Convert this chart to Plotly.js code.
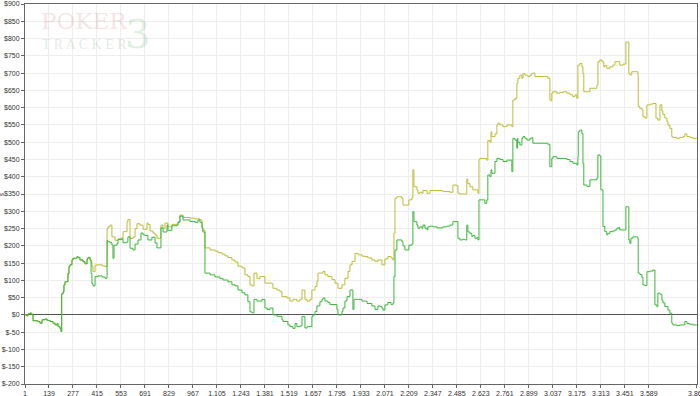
<!DOCTYPE html>
<html>
<head>
<meta charset="utf-8">
<script src="https://cdn.plot.ly/plotly-3.0.1.min.js"></script>
<style>html,body{margin:0;padding:0;background:#fff;overflow:hidden;}#chart{width:700px;height:396px;}</style>
</head>
<body>
<div id="chart"></div>
<script>
// Hands (x) and cumulative winnings ($)
const greenHands = [1,12,18,30,41,47,76,87,99,116,128,145,162,174,185,191,202,208,212,220,225,231,243,248,254,260,271,277,300,306,317,335,346,358,363,375,381,386,392,404,421,444,461,473,478,490,501,507,513,530,536,559,565,588,593,605,622,634,651,668,680,691,708,731,749,760,777,783,795,818,823,846,875,881,892,910,938,950,979,996,1007,1019,1024,1036,1065,1093,1122,1140,1168,1191,1209,1226,1249,1266,1283,1295,1306,1318,1335,1364,1381,1393,1410,1427,1450,1479,1485,1513,1525,1542,1554,1565,1582,1594,1611,1623,1651,1657,1669,1680,1697,1709,1715,1726,1743,1755,1795,1801,1824,1830,1841,1853,1870,1887,1893,1910,1939,1968,1996,2014,2031,2042,2054,2060,2071,2088,2106,2117,2123,2129,2140,2169,2175,2186,2209,2226,2232,2238,2255,2261,2272,2284,2290,2301,2313,2318,2330,2347,2370,2405,2427,2445,2462,2485,2491,2502,2519,2531,2542,2548,2560,2571,2577,2589,2600,2606,2612,2629,2646,2657,2663,2675,2681,2686,2704,2715,2732,2750,2773,2790,2801,2807,2819,2830,2833,2836,2847,2859,2865,2876,2888,2905,2916,2922,3003,3008,3020,3031,3037,3060,3095,3117,3135,3152,3175,3181,3183,3192,3204,3210,3215,3233,3250,3267,3290,3296,3307,3313,3325,3336,3347,3353,3365,3382,3394,3405,3417,3422,3451,3457,3468,3474,3480,3486,3497,3520,3526,3528,3537,3549,3555,3566,3578,3595,3612,3624,3635,3641,3653,3664,3670,3681,3699,3710,3721,3727,3750,3767,3785,3796,3808,3825,3842,3865];
const greenWon = [0,-3,3,5,0,-17,-19,-24,-14,-12,-16,-19,-24,-29,-25,-34,-39,-48,61,67,87,96,96,120,141,145,159,164,169,166,159,154,148,162,166,159,120,91,84,111,113,110,106,215,212,209,202,164,202,207,218,221,209,212,226,193,188,205,217,237,232,230,217,225,208,194,194,252,240,260,245,258,260,268,286,275,275,270,268,275,268,252,240,121,116,110,105,101,96,87,84,72,64,58,38,9,6,45,40,45,20,16,20,0,-4,-14,-19,-29,-34,-39,-25,-34,-32,-5,-38,-34,-5,0,10,26,38,45,49,40,36,30,16,0,10,20,40,53,72,16,45,45,40,33,26,16,26,24,20,14,29,36,30,34,111,188,217,212,200,188,202,205,299,270,260,251,255,251,260,251,246,255,257,255,252,255,257,260,270,270,222,217,219,217,260,240,236,227,230,222,224,217,333,333,323,333,405,400,420,410,444,453,450,444,448,448,415,511,506,482,511,500,492,511,516,511,506,511,513,497,497,494,429,453,458,453,453,450,444,439,434,458,530,535,525,439,376,372,391,391,396,463,460,362,256,241,232,236,241,243,246,251,253,246,246,313,313,217,207,222,226,226,220,121,117,109,87,85,125,127,130,29,24,63,60,43,35,24,14,5,-24,-29,-31,-29,-29,-19,-25,-27,-29,-29];

const yellowHands = [1,12,18,30,41,47,76,87,99,116,128,145,162,174,185,191,202,208,212,220,225,231,243,248,254,260,271,277,300,306,317,335,346,358,363,375,381,386,392,404,415,444,461,473,478,490,501,519,536,547,565,588,593,605,622,634,645,662,680,703,708,720,737,749,760,783,795,806,823,846,881,892,910,950,979,1007,1019,1024,1036,1065,1093,1111,1134,1151,1168,1191,1209,1226,1249,1266,1283,1295,1306,1318,1335,1352,1381,1421,1427,1450,1467,1479,1508,1525,1542,1565,1582,1594,1611,1623,1640,1651,1669,1680,1686,1715,1726,1743,1766,1784,1801,1824,1841,1859,1870,1882,1899,1916,1939,1956,1973,1996,2014,2031,2042,2054,2071,2088,2106,2117,2123,2129,2140,2169,2175,2197,2209,2226,2232,2238,2255,2261,2272,2284,2290,2313,2330,2370,2405,2445,2462,2485,2491,2502,2531,2542,2548,2560,2577,2600,2606,2612,2617,2657,2663,2675,2681,2686,2704,2715,2721,2732,2750,2773,2790,2801,2807,2819,2830,2836,2847,2859,2865,2876,2893,2905,2916,2922,2934,3003,3008,3020,3026,3031,3037,3060,3077,3095,3117,3135,3152,3164,3175,3181,3192,3204,3210,3215,3233,3250,3290,3296,3307,3319,3330,3336,3347,3365,3382,3394,3422,3440,3457,3468,3474,3480,3491,3520,3526,3528,3537,3549,3555,3566,3578,3595,3612,3630,3641,3653,3664,3670,3681,3693,3699,3710,3721,3727,3750,3767,3785,3796,3808,3825,3842,3865];
const yellowWon = [0,-3,3,5,0,-17,-19,-24,-14,-12,-16,-19,-24,-29,-25,-34,-39,-48,61,67,87,96,96,120,141,145,159,164,169,166,159,154,148,162,166,159,154,140,125,144,145,142,140,250,255,260,226,216,220,222,241,270,276,221,225,250,264,260,248,266,262,243,237,231,222,260,250,266,255,262,270,289,282,280,278,275,252,245,194,188,185,180,176,171,166,159,153,141,136,116,111,87,84,121,105,111,92,90,77,72,67,53,49,40,45,40,45,72,45,40,45,72,82,97,121,126,116,111,102,92,77,87,106,126,145,155,178,174,170,169,165,159,155,159,159,145,162,169,165,159,237,338,342,338,318,318,333,338,420,371,362,352,355,352,360,352,360,360,357,355,376,374,352,350,350,393,380,371,362,362,352,449,453,448,505,500,530,516,524,550,555,550,545,550,550,545,622,627,670,685,694,685,699,694,690,694,699,700,690,690,685,622,620,642,646,642,644,646,642,637,632,637,627,723,728,718,699,646,646,656,665,733,738,733,718,722,714,718,723,733,723,726,790,790,699,695,704,704,695,603,598,595,574,570,608,610,612,570,564,608,590,580,570,559,549,540,516,514,511,514,516,524,516,514,511,511];

const xTickVals = [1,139,277,415,553,691,829,967,1105,1243,1381,1519,1657,1795,1933,2071,2209,2347,2485,2623,2761,2899,3037,3175,3313,3451,3589,3865];
const xTickText = ["1","139","277","415","553","691","829","967","1,105","1,243","1,381","1,519","1,657","1,795","1,933","2,071","2,209","2,347","2,485","2,623","2,761","2,899","3,037","3,175","3,313","3,451","3,589","3,865"];
const yTickVals = [-200,-150,-100,-50,0,50,100,150,200,250,300,350,400,450,500,550,600,650,700,750,800,850,900];
const yTickText = yTickVals.map(v => "$" + v);

const tickFont = {family: "Liberation Sans, Arial, sans-serif", size: 7, color: "#333"};

const traces = [
  {x: yellowHands, y: yellowWon, type: "scatter", mode: "lines",
   line: {shape: "hv", color: "#bcbc3a", width: 1}, showlegend: false, hoverinfo: "skip"},
  {x: greenHands, y: greenWon, type: "scatter", mode: "lines",
   line: {shape: "hv", color: "#3cb63c", width: 1}, showlegend: false, hoverinfo: "skip"}
];

const layout = {
  width: 700, height: 396,
  margin: {l: 25, r: 3, t: 4, b: 12, pad: 0},
  paper_bgcolor: "#fff", plot_bgcolor: "#fff",
  showlegend: false,
  xaxis: {
    range: [1, 3866], tickvals: xTickVals, ticktext: xTickText,
    showgrid: true, gridcolor: "#eeeeee", gridwidth: 1,
    showline: true, linecolor: "#666", linewidth: 1, mirror: true,
    ticks: "outside", ticklen: 3, tickcolor: "#666", tickfont: tickFont,
    ticklabeloverflow: "allow",
    zeroline: false, fixedrange: true, automargin: false
  },
  yaxis: {
    range: [-200, 900], tickvals: yTickVals, ticktext: yTickText,
    showgrid: true, gridcolor: "#eeeeee", gridwidth: 1,
    showline: true, linecolor: "#666", linewidth: 1, mirror: true,
    ticks: "outside", ticklen: 3, tickcolor: "#666", tickfont: tickFont,
    ticklabeloverflow: "allow",
    zeroline: true, zerolinecolor: "#555", zerolinewidth: 1, fixedrange: true, automargin: false
  },
  annotations: [
    {xref: "paper", yref: "paper", x: 0.021, y: 0.955, xanchor: "left", yanchor: "middle",
     text: "POKER", showarrow: false,
     font: {family: "DejaVu Serif, Liberation Serif, serif", size: 23, color: "rgba(200,90,90,0.18)"}},
    {xref: "paper", yref: "paper", x: 0.022, y: 0.893, xanchor: "left", yanchor: "middle",
     text: "T R A C K E R", showarrow: false,
     font: {family: "Liberation Serif, DejaVu Serif, serif", size: 14, color: "rgba(110,140,110,0.2)"}},
    {xref: "paper", yref: "paper", x: 0.168, y: 0.92, xanchor: "center", yanchor: "middle",
     text: "3", showarrow: false,
     font: {family: "DejaVu Serif, serif", size: 40, color: "rgba(70,160,70,0.18)"}},
    {xref: "paper", yref: "paper", x: -0.034, y: 0.5, xanchor: "center", yanchor: "middle",
     text: "$", textangle: -90, showarrow: false,
     font: {family: "Liberation Sans, Arial, sans-serif", size: 6, color: "#444"}}
  ]
};

Plotly.newPlot("chart", traces, layout, {staticPlot: true, displayModeBar: false});
</script>
</body>
</html>
